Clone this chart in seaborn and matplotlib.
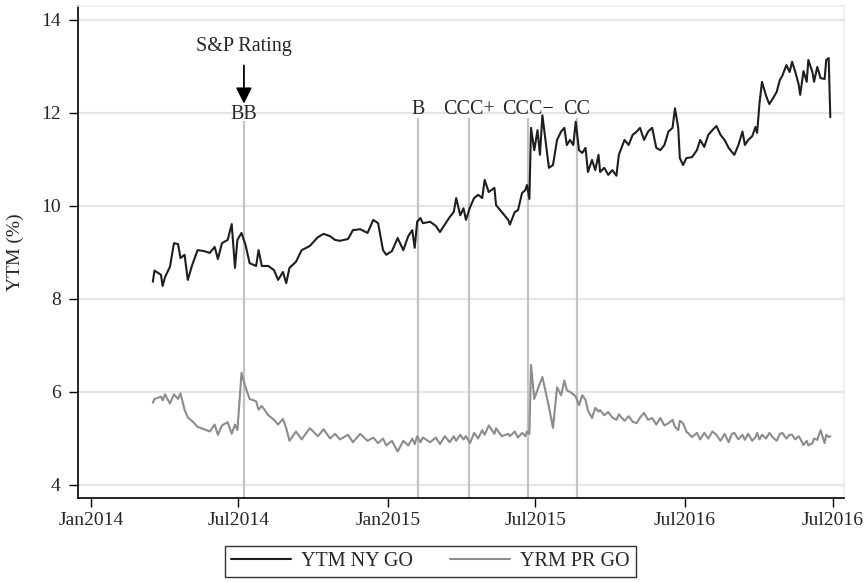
import numpy as np
import pandas as pd
import seaborn as sns
import matplotlib.pyplot as plt

dates = [
    '2014-03-18', '2014-03-20', '2014-03-28', '2014-03-30', '2014-04-02', '2014-04-08', '2014-04-13', '2014-04-18',
    '2014-04-21', '2014-04-26', '2014-04-30', '2014-05-05', '2014-05-12', '2014-05-20', '2014-05-27', '2014-06-02',
    '2014-06-06', '2014-06-11', '2014-06-18', '2014-06-23', '2014-06-27', '2014-06-30', '2014-07-05', '2014-07-10',
    '2014-07-15', '2014-07-23', '2014-07-26', '2014-07-30', '2014-08-07', '2014-08-14', '2014-08-19', '2014-08-25',
    '2014-08-29', '2014-09-02', '2014-09-10', '2014-09-17', '2014-09-27', '2014-10-07', '2014-10-14', '2014-10-22',
    '2014-10-28', '2014-11-03', '2014-11-13', '2014-11-19', '2014-11-28', '2014-12-07', '2014-12-14', '2014-12-20',
    '2014-12-26', '2014-12-30', '2015-01-06', '2015-01-13', '2015-01-20', '2015-01-26', '2015-01-31', '2015-02-03',
    '2015-02-06', '2015-02-10', '2015-02-13', '2015-02-22', '2015-03-01', '2015-03-06', '2015-03-12', '2015-03-18',
    '2015-03-23', '2015-03-26', '2015-03-31', '2015-04-04', '2015-04-07', '2015-04-12', '2015-04-17', '2015-04-22',
    '2015-04-27', '2015-04-30', '2015-05-05', '2015-05-12', '2015-05-14', '2015-05-21', '2015-05-29', '2015-05-31',
    '2015-06-06', '2015-06-10', '2015-06-15', '2015-06-19', '2015-06-21', '2015-06-24', '2015-06-26', '2015-06-30',
    '2015-07-04', '2015-07-07', '2015-07-10', '2015-07-15', '2015-07-18', '2015-07-23', '2015-07-28', '2015-08-02',
    '2015-08-06', '2015-08-09', '2015-08-13', '2015-08-17', '2015-08-20', '2015-08-24', '2015-08-28', '2015-09-01',
    '2015-09-04', '2015-09-09', '2015-09-13', '2015-09-17', '2015-09-19', '2015-09-24', '2015-09-29', '2015-10-04',
    '2015-10-09', '2015-10-12', '2015-10-19', '2015-10-24', '2015-10-29', '2015-11-03', '2015-11-07', '2015-11-12',
    '2015-11-17', '2015-11-22', '2015-11-27', '2015-12-02', '2015-12-07', '2015-12-12', '2015-12-17', '2015-12-20',
    '2015-12-24', '2015-12-26', '2015-12-30', '2016-01-03', '2016-01-10', '2016-01-16', '2016-01-20', '2016-01-25',
    '2016-01-30', '2016-02-04', '2016-02-09', '2016-02-14', '2016-02-19', '2016-02-24', '2016-02-28', '2016-03-02',
    '2016-03-07', '2016-03-12', '2016-03-15', '2016-03-19', '2016-03-24', '2016-03-28', '2016-03-30', '2016-04-02',
    '2016-04-05', '2016-04-10', '2016-04-14', '2016-04-18', '2016-04-23', '2016-04-27', '2016-04-30', '2016-05-05',
    '2016-05-09', '2016-05-12', '2016-05-16', '2016-05-20', '2016-05-22', '2016-05-26', '2016-05-30', '2016-06-01',
    '2016-06-06', '2016-06-08', '2016-06-12', '2016-06-16', '2016-06-21', '2016-06-23', '2016-06-26', '2016-06-28',
]

ytm_ny = [
    8.37, 8.61, 8.52, 8.28, 8.47, 8.69, 9.20, 9.18,
    8.88, 8.95, 8.41, 8.71, 9.05, 9.03, 8.99, 9.12,
    8.86, 9.20, 9.27, 9.61, 8.67, 9.27, 9.42, 9.16,
    8.77, 8.71, 9.05, 8.71, 8.71, 8.62, 8.41, 8.58,
    8.34, 8.67, 8.80, 9.05, 9.14, 9.33, 9.40, 9.35,
    9.27, 9.25, 9.29, 9.48, 9.50, 9.42, 9.70, 9.63,
    9.05, 8.95, 9.03, 9.31, 9.05, 9.35, 9.48, 9.10,
    9.66, 9.74, 9.63, 9.66, 9.57, 9.44, 9.60, 9.76,
    9.87, 10.17, 9.80, 9.95, 9.70, 9.97, 10.17, 10.24,
    10.17, 10.56, 10.30, 10.39, 10.02, 9.87, 9.70, 9.60,
    9.87, 9.91, 10.28, 10.34, 10.45, 10.15, 11.68, 11.20,
    11.63, 11.10, 11.95, 11.25, 10.82, 10.88, 11.42, 11.60,
    11.68, 11.31, 11.42, 11.31, 11.81, 11.20, 11.14, 11.25,
    10.73, 10.99, 10.77, 11.10, 10.73, 10.82, 10.67, 10.77,
    10.65, 11.10, 11.42, 11.31, 11.53, 11.60, 11.68, 11.42,
    11.60, 11.68, 11.25, 11.20, 11.31, 11.60, 11.68, 12.10,
    11.68, 11.03, 10.88, 11.03, 11.05, 11.20, 11.42, 11.27,
    11.53, 11.63, 11.72, 11.53, 11.42, 11.25, 11.16, 11.10,
    11.31, 11.60, 11.31, 11.42, 11.50, 11.70, 11.57, 12.22,
    12.67, 12.37, 12.19, 12.30, 12.45, 12.71, 12.80, 13.03,
    12.88, 13.10, 12.88, 12.62, 12.39, 12.90, 12.67, 13.14,
    12.88, 12.67, 12.99, 12.75, 12.73, 13.14, 13.18, 11.91,
]

yrm_pr = [
    5.77, 5.85, 5.90, 5.82, 5.95, 5.75, 5.95, 5.85,
    5.97, 5.62, 5.45, 5.38, 5.25, 5.20, 5.15, 5.30,
    5.08, 5.28, 5.35, 5.10, 5.30, 5.18, 6.41, 6.10,
    5.85, 5.80, 5.62, 5.70, 5.50, 5.40, 5.30, 5.42,
    5.22, 4.95, 5.15, 4.98, 5.22, 5.05, 5.20, 5.00,
    5.10, 4.98, 5.08, 4.92, 5.10, 4.95, 5.02, 4.90,
    5.00, 4.85, 4.95, 4.72, 4.95, 4.85, 5.00, 4.88,
    5.05, 4.92, 5.02, 4.92, 5.02, 4.88, 5.05, 4.92,
    5.05, 4.95, 5.08, 4.98, 5.05, 4.90, 5.12, 5.00,
    5.18, 5.08, 5.28, 5.10, 5.22, 5.05, 5.10, 5.05,
    5.15, 5.02, 5.12, 5.05, 5.15, 5.10, 6.58, 5.85,
    6.05, 6.19, 6.32, 5.92, 5.68, 5.23, 6.10, 5.93,
    6.25, 6.04, 6.00, 5.95, 5.90, 5.72, 5.93, 5.83,
    5.60, 5.44, 5.66, 5.58, 5.61, 5.50, 5.57, 5.45,
    5.40, 5.52, 5.38, 5.48, 5.36, 5.33, 5.45, 5.55,
    5.40, 5.44, 5.30, 5.44, 5.28, 5.33, 5.40, 5.25,
    5.18, 5.38, 5.33, 5.15, 5.03, 5.12, 4.98, 5.12,
    5.00, 5.15, 5.08, 4.95, 5.10, 4.92, 5.10, 5.12,
    4.98, 5.08, 4.97, 5.10, 4.95, 5.03, 5.12, 4.98,
    5.08, 5.00, 5.12, 5.03, 4.95, 5.10, 5.12, 5.00,
    5.08, 5.08, 4.98, 5.05, 5.00, 4.86, 4.95, 4.85,
    4.90, 5.00, 4.97, 5.18, 4.90, 5.08, 5.03, 5.05,
]

# S&P rating changes
rating_dates = ['2014-07-08', '2015-02-07', '2015-04-11', '2015-06-22', '2015-08-21']
rating_labels = ['BB', 'B', 'CCC+', 'CCC\u2212', 'CC']

tick_dates = ['2014-01-01', '2014-07-01', '2015-01-01', '2015-07-01', '2016-01-01', '2016-07-01']
tick_labels = ['Jan2014', 'Jul2014', 'Jan2015', 'Jul2015', 'Jul2016', 'Jul2016']

series_names = ['YTM NY GO', 'YRM PR GO']

df = pd.DataFrame({'date': pd.to_datetime(dates), series_names[0]: ytm_ny, series_names[1]: yrm_pr})
long_df = df.melt(id_vars='date', var_name='series', value_name='ytm')

sns.set_style('white')
plt.rcParams['font.family'] = ['Liberation Serif', 'DejaVu Serif']

fig = plt.figure(figsize=(8.64, 5.82), dpi=100)
ax = fig.add_axes([0.0903, 0.1443, 0.8867, 0.8454])

# grid lines
for y in [4, 6, 8, 10, 12, 14]:
    ax.axhline(y, color='#e6e6e6', lw=1.6, zorder=0)

# rating event lines
rd = pd.to_datetime(rating_dates)
tops = [11.83, 11.9, 11.9, 11.9, 11.9]
ax.vlines(rd, 3.72, tops, color='#c4c4c4', lw=1.6, zorder=1)

sns.lineplot(data=long_df, x='date', y='ytm', hue='series', hue_order=series_names,
             palette=['#1e1e1e', '#8c8c8c'], lw=1.5, ax=ax, legend=False, zorder=2)

# rating labels
for d, lab in zip(rd, rating_labels):
    yy = 11.96 if lab == 'BB' else 12.08
    ax.text(d, yy, lab, ha='center', va='center', fontsize=14.5)

ax.text(rd[0], 13.42, 'S&P Rating', ha='center', va='center', fontsize=14.5)
ax.annotate('', xy=(rd[0], 12.14), xytext=(rd[0], 13.08),
            arrowprops=dict(arrowstyle='-|>', color='black', lw=1.3, mutation_scale=24))

ax.set_xlim(pd.Timestamp('2013-12-16'), pd.Timestamp('2016-07-15'))
ax.set_ylim(3.72, 14.3)
ax.set_yticks([4, 6, 8, 10, 12, 14])
ax.set_xticks(pd.to_datetime(tick_dates))
ax.set_xticklabels(tick_labels)
ax.tick_params(axis='both', which='major', direction='out', length=6.5, width=1, color='black',
               labelsize=14, bottom=True, left=True)
ax.tick_params(axis='y', pad=6)
ax.set_xlabel('')
ax.set_ylabel('YTM (%)', fontsize=14, labelpad=12)

for side in ['left', 'bottom']:
    ax.spines[side].set_color('black')
    ax.spines[side].set_linewidth(1.2)
for side in ['top', 'right']:
    ax.spines[side].set_color('#ececec')
    ax.spines[side].set_linewidth(1.2)

handles = [plt.Line2D([], [], color='#1e1e1e', lw=1.5), plt.Line2D([], [], color='#8c8c8c', lw=1.5)]
leg = fig.legend(handles, series_names, loc='center', bbox_to_anchor=(0.498, 0.035), ncol=2,
                 frameon=True, fancybox=False, edgecolor='black', fontsize=14.5, handlelength=3.0,
                 columnspacing=1.8, borderpad=0.3, handletextpad=0.5)
leg.get_frame().set_linewidth(1.0)

fig.savefig('out.png', dpi=100)
